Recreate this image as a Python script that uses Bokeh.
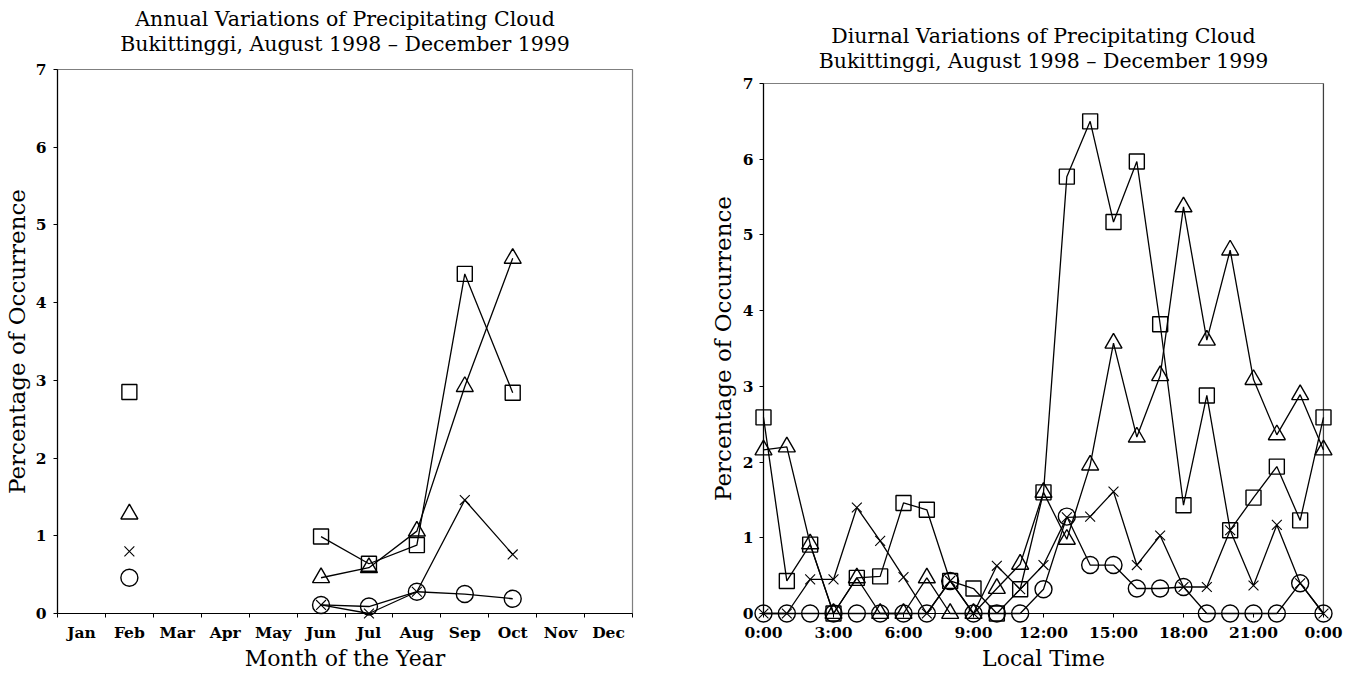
import numpy as np
from bokeh.plotting import figure
from bokeh.layouts import row, column
from bokeh.models import FixedTicker, Span, Spacer
from bokeh.core.properties import value
from bokeh.embed import file_html
from bokeh.resources import INLINE

nan = float("nan")

# ---- Annual variations (percentage of occurrence per month) ----
months = ["Jan", "Feb", "Mar", "Apr", "May", "Jun",
          "Jul", "Aug", "Sep", "Oct", "Nov", "Dec"]
annual_square = [nan, 2.85, nan, nan, nan, 0.99, 0.64, 0.88, 4.37, 2.84, nan, nan]
annual_triangle = [nan, 1.28, nan, nan, nan, 0.46, 0.59, 1.06, 2.92, 4.57, nan, nan]
annual_cross = [nan, 0.80, nan, nan, nan, 0.11, 0.00, 0.28, 1.46, 0.76, nan, nan]
annual_circle = [nan, 0.46, nan, nan, nan, 0.11, 0.09, 0.28, 0.25, 0.19, nan, nan]

# ---- Diurnal variations (percentage of occurrence per local hour) ----
hours = list(range(25))
hour_ticks = [0, 3, 6, 9, 12, 15, 18, 21, 24]
hour_labels = ["0:00", "3:00", "6:00", "9:00", "12:00", "15:00", "18:00", "21:00", "0:00"]
diurnal_square = [2.59, 0.43, 0.91, 0.00, 0.47, 0.49, 1.46, 1.37, 0.43, 0.33, 0.00, 0.32,
                  1.60, 5.77, 6.50, 5.17, 5.97, 3.82, 1.43, 2.88, 1.10, 1.53, 1.94, 1.23, 2.59]
diurnal_triangle = [2.16, 2.20, 0.92, 0.00, 0.47, 0.00, 0.00, 0.47, 0.00, 0.00, 0.33, 0.65,
                    1.60, 0.98, 1.96, 3.57, 2.33, 3.14, 5.37, 3.61, 4.80, 3.09, 2.36, 2.89, 2.16]
diurnal_cross = [0.00, 0.00, 0.45, 0.45, 1.40, 0.96, 0.48, 0.00, 0.43, 0.00, 0.63, 0.32,
                 0.64, 1.27, 1.28, 1.61, 0.64, 1.03, 0.35, 0.35, 1.10, 0.37, 1.17, 0.40, 0.00]
diurnal_circle = [0.00, 0.00, 0.00, 0.00, 0.00, 0.00, 0.00, 0.00, 0.43, 0.00, 0.00, 0.00,
                  0.32, 1.28, 0.64, 0.64, 0.33, 0.33, 0.35, 0.00, 0.00, 0.00, 0.00, 0.40, 0.00]

y_ticks = [0, 1, 2, 3, 4, 5, 6, 7]
subtitle = "Bukittinggi, August 1998 \u2013 December 1999"

TEXT_FONT = "DejaVu Serif"
Y_TOP = 7

# marker, size, outline width
MARKERS = [("square", 15, 1.4), ("triangle", 17, 1.4), ("x", 14, 1.1), ("circle", 17, 1.4)]


def draw_series(p, xs, series):
    # drawn on the overlay level so markers sitting on the axes are not cut off
    for ys, (marker, size, lw) in zip(series, MARKERS):
        p.line(xs, ys, line_color="black", line_width=1.3, level="overlay")
        p.scatter(xs, ys, marker=marker, size=size, line_color="black",
                  line_width=lw, fill_alpha=0, level="overlay")


def add_heading(p, x_mid, px_per_unit, heading, gap):
    # two centred heading lines sitting above the plot frame
    p.text(x=[x_mid, x_mid],
           y=[Y_TOP + (gap + 25) / px_per_unit, Y_TOP + gap / px_per_unit],
           text=[heading, subtitle], text_align="center", text_baseline="middle",
           text_font=value(TEXT_FONT), text_font_size="20.5px",
           text_color="black", level="overlay")


def style(p, xlabel):
    p.xgrid.visible = False
    p.ygrid.visible = False
    p.outline_line_color = "#7f7f7f"
    p.outline_line_width = 1.2
    p.background_fill_color = "white"
    p.border_fill_color = "white"
    for ax in (p.xaxis[0], p.yaxis[0]):
        ax.axis_line_color = "black"
        ax.axis_line_width = 1.2
        ax.major_tick_line_color = "black"
        ax.major_tick_out = 4
        ax.major_tick_in = 0
        ax.minor_tick_line_color = "black"
        ax.minor_tick_out = 4
        ax.minor_tick_in = 0
        ax.major_label_text_font = TEXT_FONT
        ax.major_label_text_font_style = "bold"
        ax.major_label_text_font_size = "15.5px"
        ax.major_label_text_color = "black"
        ax.axis_label_text_font = TEXT_FONT
        ax.axis_label_text_font_style = "normal"
        ax.axis_label_text_font_size = "22px"
        ax.axis_label_text_color = "black"
    p.xaxis[0].axis_label = xlabel
    p.yaxis[0].axis_label = "Percentage of Occurrence"
    p.yaxis[0].axis_label_text_font_size = "23px"
    p.yaxis[0].ticker = FixedTicker(ticks=y_ticks, minor_ticks=[])
    p.yaxis[0].major_label_standoff = 7
    p.yaxis[0].axis_label_standoff = 3
    p.xaxis[0].major_label_standoff = 5
    p.xaxis[0].axis_label_standoff = 1


# Left panel: month of the year, values placed at the centre of each month
month_x = list(np.arange(len(months)) + 0.5)
p1 = figure(width=676, height=673, x_range=(0, 12), y_range=(0, Y_TOP),
            output_backend="svg", toolbar_location=None, title=None,
            min_border_left=57, min_border_right=44,
            min_border_top=69, min_border_bottom=58)
style(p1, "Month of the Year")
p1.xaxis[0].ticker = FixedTicker(ticks=month_x, minor_ticks=list(range(13)))
p1.xaxis[0].major_label_overrides = {m: name for m, name in zip(month_x, months)}
p1.xaxis[0].major_tick_line_color = None
add_heading(p1, 6, (673 - 69 - 58) / Y_TOP, "Annual Variations of Precipitating Cloud", 26)
draw_series(p1, month_x, [annual_square, annual_triangle, annual_cross, annual_circle])

# Right panel: local time of day
p2 = figure(width=676, height=659, x_range=(0, 24), y_range=(0, Y_TOP),
            output_backend="svg", toolbar_location=None, title=None,
            min_border_left=87, min_border_right=29,
            min_border_top=69, min_border_bottom=58)
style(p2, "Local Time")
p2.xaxis[0].ticker = FixedTicker(ticks=hour_ticks, minor_ticks=[])
p2.xaxis[0].major_label_overrides = {t: lab for t, lab in zip(hour_ticks, hour_labels)}
p2.yaxis[0].major_label_standoff = 6
p2.yaxis[0].axis_label_standoff = 4
p2.add_layout(Span(location=24, dimension="height", line_color="black", line_width=1.2))
add_heading(p2, 12, (659 - 69 - 58) / Y_TOP, "Diurnal Variations of Precipitating Cloud", 23)
draw_series(p2, hours, [diurnal_square, diurnal_triangle, diurnal_cross, diurnal_circle])

layout = row(p1, column(Spacer(width=676, height=14), p2))
open("out.html", "w").write(file_html(layout, INLINE))
